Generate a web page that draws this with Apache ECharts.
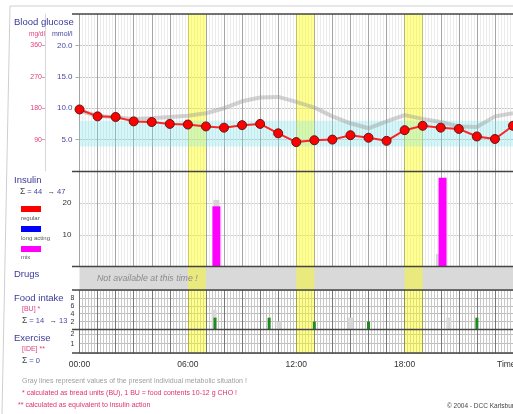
<!DOCTYPE html>
<html><head><meta charset="utf-8">
<script src="https://cdn.jsdelivr.net/npm/echarts@6/dist/echarts.min.js"></script>
<style>html,body{margin:0;padding:0;background:#fff}#c{width:513px;height:414px}</style>
</head><body><div id="c"></div>
<script>
// ---------- data ----------
const glucoseHours = [0,1,2,3,4,5,6,7,8,9,10,11,12,13,14,15,16,17,18,19,20,21,22,23,24];
const glucoseMmol = [9.8,8.7,8.6,7.9,7.8,7.5,7.4,7.1,6.9,7.3,7.5,6.0,4.6,4.9,5.0,5.7,5.3,4.8,6.5,7.2,6.9,6.7,5.5,5.1,7.2];
const referenceGlucoseMmol = [9.6,8.8,8.5,8.3,8.4,8.6,8.8,9.2,10.0,11.1,11.7,11.8,11.0,10.1,8.7,7.6,6.8,7.9,8.9,8.3,7.8,7.1,7.0,8.7,9.2];
const glucoseTicksMmol = [5,10,15,20];
const glucoseTicksMgdl = [90,180,270,360];
const targetRangeMmol = [3.9, 8.0];
const mealBandHours = [[6,7],[12,13],[18,19]];
const insulinMixHours = [7.58, 20.1];
const insulinMixUnits = [19, 28];
const insulinRefHours = [7.58, 19.9];
const insulinRefUnits = [21, 4];
const insulinTicks = [10, 20];
const foodHours = [7.5, 10.5, 13.0, 16.0, 22.0];
const foodBU = [3, 3, 2, 2, 3];
const foodRefHours = [7.45, 11.05, 15.0, 20.45];
const foodRefBU = [5, 2, 3, 3];
const foodTicks = [2, 4, 6, 8];
const exerciseTicks = [1, 2];
const timeTickHours = [0, 6, 12, 18];
const timeTickLabels = ['00:00', '06:00', '12:00', '18:00'];

// ---------- layout ----------
const FONT = 'Liberation Sans, Arial, sans-serif';
const L = 79.5, W = 437;
const panels = [
  {top: 14, height: 157},     // glucose
  {top: 171.5, height: 95},   // insulin
  {top: 266.5, height: 23.5}, // drugs
  {top: 290, height: 39.5},   // food
  {top: 329.5, height: 23.5}  // exercise
];
const TITLE = '#3a3a98', PINK = '#e0407e', BLUE = '#4848a4', DARK = '#333';

const zip = (a, b) => a.map((v, i) => [v, b[i]]);

function barRender(width, color) {
  return function (params, api) {
    const top = api.coord([api.value(0), api.value(1)]);
    const base = api.coord([api.value(0), 0]);
    return {type: 'rect', shape: {x: top[0] - width / 2, y: top[1], width: width, height: base[1] - top[1]}, style: {fill: color}};
  };
}

const grids = panels.map((p, i) => ({
  left: L, width: W, top: p.top, height: p.height,
  show: i === 2, backgroundColor: '#d9d9d9', borderWidth: 0
}));

const xAxes = panels.map((p, i) => ({
  type: 'value', gridIndex: i, min: 0, max: 24, interval: 1,
  axisLine: {show: false}, axisTick: {show: false},
  axisLabel: i === 4 ? {
    show: true, customValues: timeTickHours, margin: 7,
    formatter: v => timeTickLabels[timeTickHours.indexOf(v)] || '',
    color: DARK, fontSize: 8.5, fontFamily: FONT
  } : {show: false},
  splitLine: {show: i !== 2, lineStyle: {color: i >= 3 ? '#777' : '#a4a4a4', width: 1}},
  minorTick: {show: false, splitNumber: 6},
  minorSplitLine: {show: i !== 2, lineStyle: {color: i >= 3 ? '#c8c8c8' : '#ebebeb', width: 1}}
}));

const yAxes = [
  { type: 'value', gridIndex: 0, min: 0, max: 25, interval: 5,
    axisLine: {show: false},
    axisTick: {show: true, customValues: glucoseTicksMmol, length: 4, lineStyle: {color: '#aaa'}},
    axisLabel: {customValues: glucoseTicksMmol, formatter: v => v.toFixed(1), color: BLUE, fontSize: 8, fontFamily: FONT, margin: 7},
    splitLine: {show: true, lineStyle: {color: '#c8c8c8'}} },
  { type: 'value', gridIndex: 0, min: 0, max: 450, position: 'left', offset: 34.5,
    axisLine: {show: true, lineStyle: {color: '#d8d8d8'}},
    axisTick: {show: true, customValues: glucoseTicksMgdl, length: 3, lineStyle: {color: '#d6a0b8'}},
    axisLabel: {customValues: glucoseTicksMgdl, color: PINK, fontSize: 7, fontFamily: FONT, margin: 3},
    splitLine: {show: false} },
  { type: 'value', gridIndex: 1, min: 0, max: 30, interval: 10,
    axisLine: {show: false}, axisTick: {show: false},
    axisLabel: {customValues: insulinTicks, color: DARK, fontSize: 8, fontFamily: FONT, margin: 8},
    splitLine: {show: true, lineStyle: {color: '#cfcfcf'}} },
  { type: 'value', gridIndex: 2, min: 0, max: 1, show: false },
  { type: 'value', gridIndex: 3, min: 0, max: 10, interval: 2,
    axisLine: {show: false}, axisTick: {show: false},
    axisLabel: {customValues: foodTicks, color: DARK, fontSize: 7, fontFamily: FONT, margin: 5},
    splitLine: {show: true, lineStyle: {color: '#bdbdbd'}} },
  { type: 'value', gridIndex: 4, min: 0, max: 2.5, interval: 1,
    axisLine: {show: false}, axisTick: {show: false},
    axisLabel: {customValues: exerciseTicks, color: DARK, fontSize: 7, fontFamily: FONT, margin: 5},
    splitLine: {show: true, lineStyle: {color: '#bdbdbd'}} }
];
const yIndexOfGrid = [0, 2, 3, 4, 5];

const bandSeries = panels.map((p, i) => ({
  type: 'line', xAxisIndex: i, yAxisIndex: yIndexOfGrid[i], data: [], silent: true, z: 1,
  markArea: {silent: true, itemStyle: {color: 'rgba(255,255,0,0.42)'},
    data: mealBandHours.map(b => [{xAxis: b[0]}, {xAxis: b[1]}])}
}));

const series = [
  ...bandSeries,
  { type: 'line', xAxisIndex: 0, yAxisIndex: 0, data: [], silent: true, z: 1,
    markArea: {silent: true, itemStyle: {color: 'rgba(120,228,236,0.30)'},
      data: [[{yAxis: targetRangeMmol[0]}, {yAxis: targetRangeMmol[1]}]]} },
  { name: 'reference', type: 'line', xAxisIndex: 0, yAxisIndex: 0, z: 3,
    data: zip(glucoseHours, referenceGlucoseMmol), showSymbol: false,
    lineStyle: {color: 'rgba(150,150,150,0.42)', width: 4} },
  { name: 'glucose', type: 'line', xAxisIndex: 0, yAxisIndex: 0, z: 5,
    data: zip(glucoseHours, glucoseMmol), symbol: 'circle', symbolSize: 9,
    lineStyle: {color: '#ff2424', width: 2},
    itemStyle: {color: '#ff0000', borderColor: '#5a1a1a', borderWidth: 1} },
  { type: 'custom', xAxisIndex: 1, yAxisIndex: 2, z: 3, encode: {x: 0, y: 1},
    data: zip(insulinRefHours, insulinRefUnits), renderItem: barRender(6, '#d4d4d4') },
  { type: 'custom', xAxisIndex: 1, yAxisIndex: 2, z: 4, encode: {x: 0, y: 1},
    data: zip(insulinMixHours, insulinMixUnits), renderItem: barRender(8, '#ff00ff') },
  { type: 'custom', xAxisIndex: 3, yAxisIndex: 4, z: 3, encode: {x: 0, y: 1},
    data: zip(foodRefHours, foodRefBU), renderItem: barRender(5, '#d8d8d8') },
  { type: 'custom', xAxisIndex: 3, yAxisIndex: 4, z: 4, encode: {x: 0, y: 1},
    data: zip(foodHours, foodBU), renderItem: barRender(3, '#1f8a1f') }
];

// ---------- decorations / labels ----------
function txt(x, y, text, opt) {
  return Object.assign({type: 'text', x: x, y: y, z: 120,
    style: Object.assign({text: text, fill: TITLE, fontSize: 9.5, fontFamily: FONT, verticalAlign: 'middle', align: 'left'}, opt || {})});
}
function hline(y, color, w) {
  return {type: 'line', z: 110, shape: {x1: 72, y1: y, x2: 520, y2: y}, style: {stroke: color, lineWidth: w}};
}
const sep = panels.map(p => p.top).concat([panels[4].top + panels[4].height]);
const sigmaRich = {
  s: {fill: '#444', fontSize: 8.5, fontFamily: FONT},
  b: {fill: BLUE, fontSize: 7.5, fontFamily: FONT},
  a: {fill: '#444', fontSize: 7.5, fontFamily: FONT}
};
const graphic = [
  {type: 'line', z: 110, shape: {x1: 10, y1: 6, x2: 520, y2: 6}, style: {stroke: '#cfcfcf', lineWidth: 1}},
  {type: 'line', z: 110, shape: {x1: 10, y1: 6, x2: 2, y2: 414}, style: {stroke: '#cfcfcf', lineWidth: 1}},
  ...sep.map(y => hline(y, '#444', 1.5)),
  txt(14, 22, 'Blood glucose'),
  txt(29, 34, 'mg/dl', {fill: PINK, fontSize: 6.5}),
  txt(52, 34, 'mmol/l', {fill: BLUE, fontSize: 7}),
  txt(14, 180, 'Insulin'),
  txt(20, 192, '{s|Σ}{b| = 44}  {a|→}{b| 47}', {rich: sigmaRich}),
  {type: 'rect', z: 120, shape: {x: 21, y: 206, width: 20, height: 6}, style: {fill: '#ff0000'}},
  txt(21, 218.5, 'regular', {fill: '#555', fontSize: 6}),
  {type: 'rect', z: 120, shape: {x: 21, y: 226, width: 20, height: 6}, style: {fill: '#0000ff'}},
  txt(21, 238.5, 'long acting', {fill: '#555', fontSize: 6}),
  {type: 'rect', z: 120, shape: {x: 21, y: 246, width: 20, height: 6}, style: {fill: '#ff00ff'}},
  txt(21, 257.5, 'mix', {fill: '#555', fontSize: 6}),
  txt(14, 274.5, 'Drugs'),
  txt(97, 279, 'Not available at this time !', {fill: '#8a8a8a', fontSize: 8.8, fontStyle: 'italic'}),
  txt(14, 298.5, 'Food intake'),
  txt(22, 309.5, '[BU] *', {fill: PINK, fontSize: 7}),
  txt(22, 321, '{s|Σ}{b| = 14}  {a|→}{b| 13}', {rich: sigmaRich}),
  txt(14, 338, 'Exercise'),
  txt(22, 349.5, '[IDE] **', {fill: PINK, fontSize: 7}),
  txt(22, 361, '{s|Σ}{b| = 0}', {rich: sigmaRich}),
  txt(497, 364.5, 'Time', {fill: DARK, fontSize: 8.5}),
  txt(22, 381, 'Gray lines represent values of the present individual metabolic situation !', {fill: '#a0a0a0', fontSize: 7}),
  txt(22, 393.5, '* calculated as bread units (BU), 1 BU = food contents 10-12 g CHO !', {fill: '#e0306e', fontSize: 7}),
  txt(18, 405.5, '** calculated as equivalent to insulin action', {fill: '#e0306e', fontSize: 7}),
  txt(447, 406, '© 2004 - DCC Karlsburg', {fill: '#444', fontSize: 6.5})
];

const chart = echarts.init(document.getElementById('c'), null, {renderer: 'canvas'});
chart.setOption({
  animation: false,
  backgroundColor: '#ffffff',
  textStyle: {fontFamily: FONT},
  grid: grids, xAxis: xAxes, yAxis: yAxes, series: series, graphic: graphic
});
</script></body></html>
